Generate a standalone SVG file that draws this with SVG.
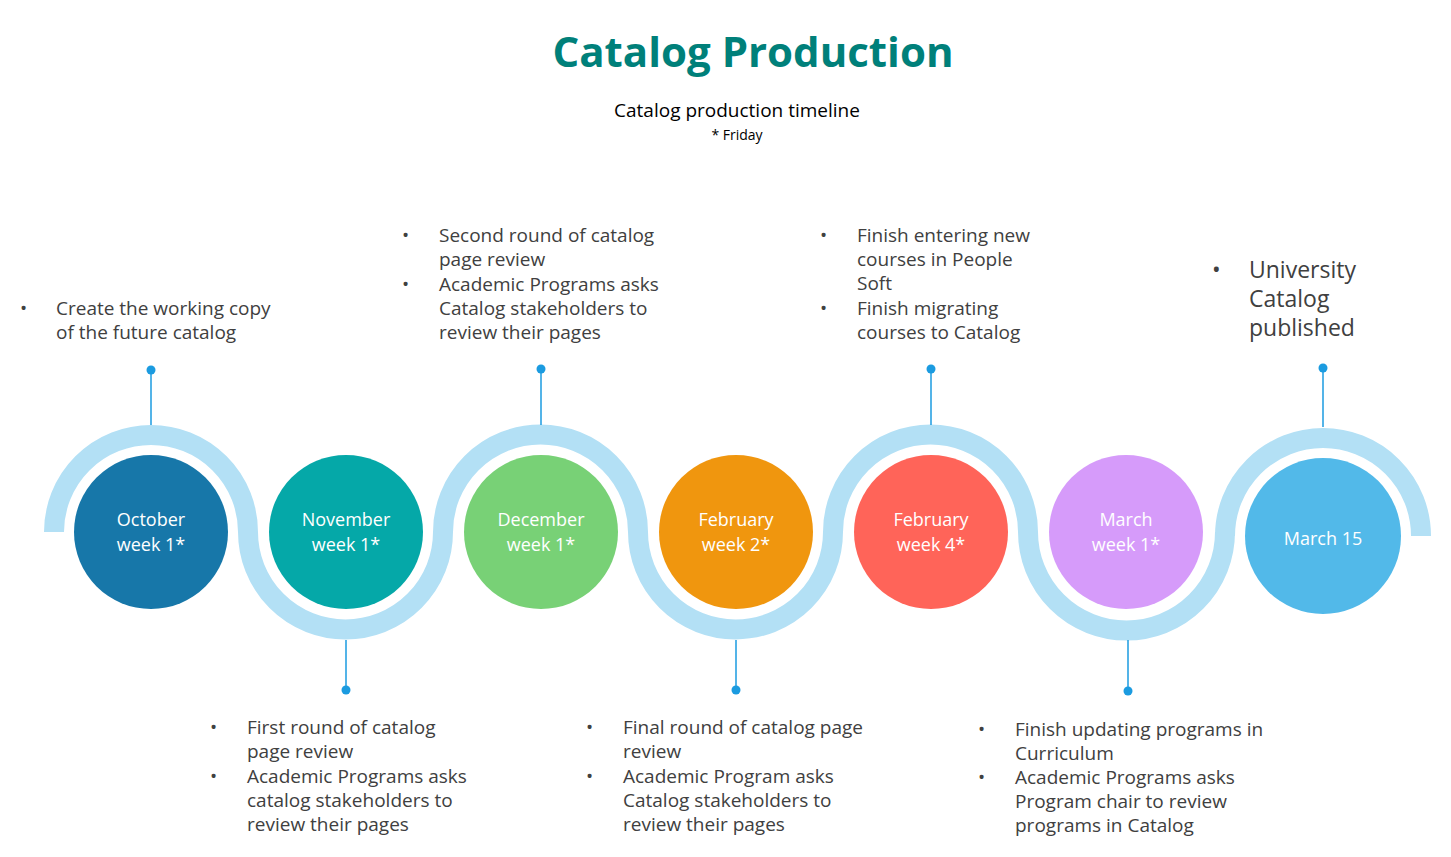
<svg xmlns="http://www.w3.org/2000/svg" width="1451" height="857" viewBox="0 0 1451 857">
<style>
.arc{fill:none;stroke:#B3E0F5;stroke-width:20}
.stem{stroke:#1B9BE0;stroke-width:1.5}
.dot{fill:#1B9BE0}
.lbl{font-family:"Open Sans","Noto Sans",sans-serif;font-size:18px;fill:#fff;text-anchor:middle}
.txt{font-family:"Open Sans","Noto Sans",sans-serif;font-size:19px;fill:#404040}
</style>
<rect width="1451" height="857" fill="#fff"/>
<text x="753" y="67" text-anchor="middle" font-family="Open Sans,Noto Sans,sans-serif" font-size="42" font-weight="bold" fill="#00807A">Catalog Production</text>
<text x="737" y="117" text-anchor="middle" font-family="Open Sans,Noto Sans,sans-serif" font-size="19" fill="#000">Catalog production timeline</text>
<text x="737" y="140" text-anchor="middle" font-family="Open Sans,Noto Sans,sans-serif" font-size="14" fill="#000">* Friday</text>
<g id="connectors">
<path class="arc" d="M54 532 A97 97 0 0 1 248 532 A97 97 0 0 0 443 532 A97 97 0 0 1 638 532 A97 97 0 0 0 833 532 A97 97 0 0 1 1028 532 A97 97 0 0 0 1225 532"/>
<path class="arc" d="M1225 536 A98 98 0 0 1 1421 536"/>
<line class="stem" x1="151" y1="370" x2="151" y2="425"/><circle class="dot" cx="151" cy="370" r="4.5"/>
<line class="stem" x1="346" y1="640" x2="346" y2="690"/><circle class="dot" cx="346" cy="690" r="4.5"/>
<line class="stem" x1="541" y1="369" x2="541" y2="425"/><circle class="dot" cx="541" cy="369" r="4.5"/>
<line class="stem" x1="736" y1="640" x2="736" y2="690"/><circle class="dot" cx="736" cy="690" r="4.5"/>
<line class="stem" x1="931" y1="369" x2="931" y2="425"/><circle class="dot" cx="931" cy="369" r="4.5"/>
<line class="stem" x1="1128" y1="640" x2="1128" y2="691"/><circle class="dot" cx="1128" cy="691" r="4.5"/>
<line class="stem" x1="1323" y1="368" x2="1323" y2="427"/><circle class="dot" cx="1323" cy="368" r="4.5"/>
</g>
<g id="n1"><circle cx="151" cy="532" r="77" fill="#1777A9"/><text class="lbl" x="151" y="526">October</text><text class="lbl" x="151" y="551">week 1*</text></g>
<g id="n2"><circle cx="346" cy="532" r="77" fill="#05A8A8"/><text class="lbl" x="346" y="526">November</text><text class="lbl" x="346" y="551">week 1*</text></g>
<g id="n3"><circle cx="541" cy="532" r="77" fill="#78D176"/><text class="lbl" x="541" y="526">December</text><text class="lbl" x="541" y="551">week 1*</text></g>
<g id="n4"><circle cx="736" cy="532" r="77" fill="#F0960E"/><text class="lbl" x="736" y="526">February</text><text class="lbl" x="736" y="551">week 2*</text></g>
<g id="n5"><circle cx="931" cy="532" r="77" fill="#FF6459"/><text class="lbl" x="931" y="526">February</text><text class="lbl" x="931" y="551">week 4*</text></g>
<g id="n6"><circle cx="1126" cy="532" r="77" fill="#D69BFA"/><text class="lbl" x="1126" y="526">March</text><text class="lbl" x="1126" y="551">week 1*</text></g>
<g id="n7"><circle cx="1323" cy="536" r="78" fill="#52B9E9"/><text class="lbl" x="1323" y="545" font-size="25">March 15</text></g>
<g id="t1" class="txt"><text x="20" y="315">•</text><text x="56" y="315">Create the working copy</text><text x="56" y="339">of the future catalog</text></g>
<g id="t2" class="txt"><text x="210" y="734">•</text><text x="247" y="734">First round of catalog</text><text x="247" y="758">page review</text><text x="210" y="783">•</text><text x="247" y="783">Academic Programs asks</text><text x="247" y="807">catalog stakeholders to</text><text x="247" y="831">review their pages</text></g>
<g id="t3" class="txt"><text x="402" y="242">•</text><text x="439" y="242">Second round of catalog</text><text x="439" y="266">page review</text><text x="402" y="291">•</text><text x="439" y="291">Academic Programs asks</text><text x="439" y="315">Catalog stakeholders to</text><text x="439" y="339">review their pages</text></g>
<g id="t4" class="txt"><text x="586" y="734">•</text><text x="623" y="734">Final round of catalog page</text><text x="623" y="758">review</text><text x="586" y="783">•</text><text x="623" y="783">Academic Program asks</text><text x="623" y="807">Catalog stakeholders to</text><text x="623" y="831">review their pages</text></g>
<g id="t5" class="txt"><text x="820" y="242">•</text><text x="857" y="242">Finish entering new</text><text x="857" y="266">courses in People</text><text x="857" y="290">Soft</text><text x="820" y="315">•</text><text x="857" y="315">Finish migrating</text><text x="857" y="339">courses to Catalog</text></g>
<g id="t6" class="txt"><text x="978" y="736">•</text><text x="1015" y="736">Finish updating programs in</text><text x="1015" y="760">Curriculum</text><text x="978" y="784">•</text><text x="1015" y="784">Academic Programs asks</text><text x="1015" y="808">Program chair to review</text><text x="1015" y="832">programs in Catalog</text></g>
<g id="t7" class="txt" font-size="23"><text x="1212" y="278" font-size="23">•</text><text x="1249" y="278" font-size="23">University</text><text x="1249" y="307" font-size="23">Catalog</text><text x="1249" y="336" font-size="23">published</text></g>
</svg>
